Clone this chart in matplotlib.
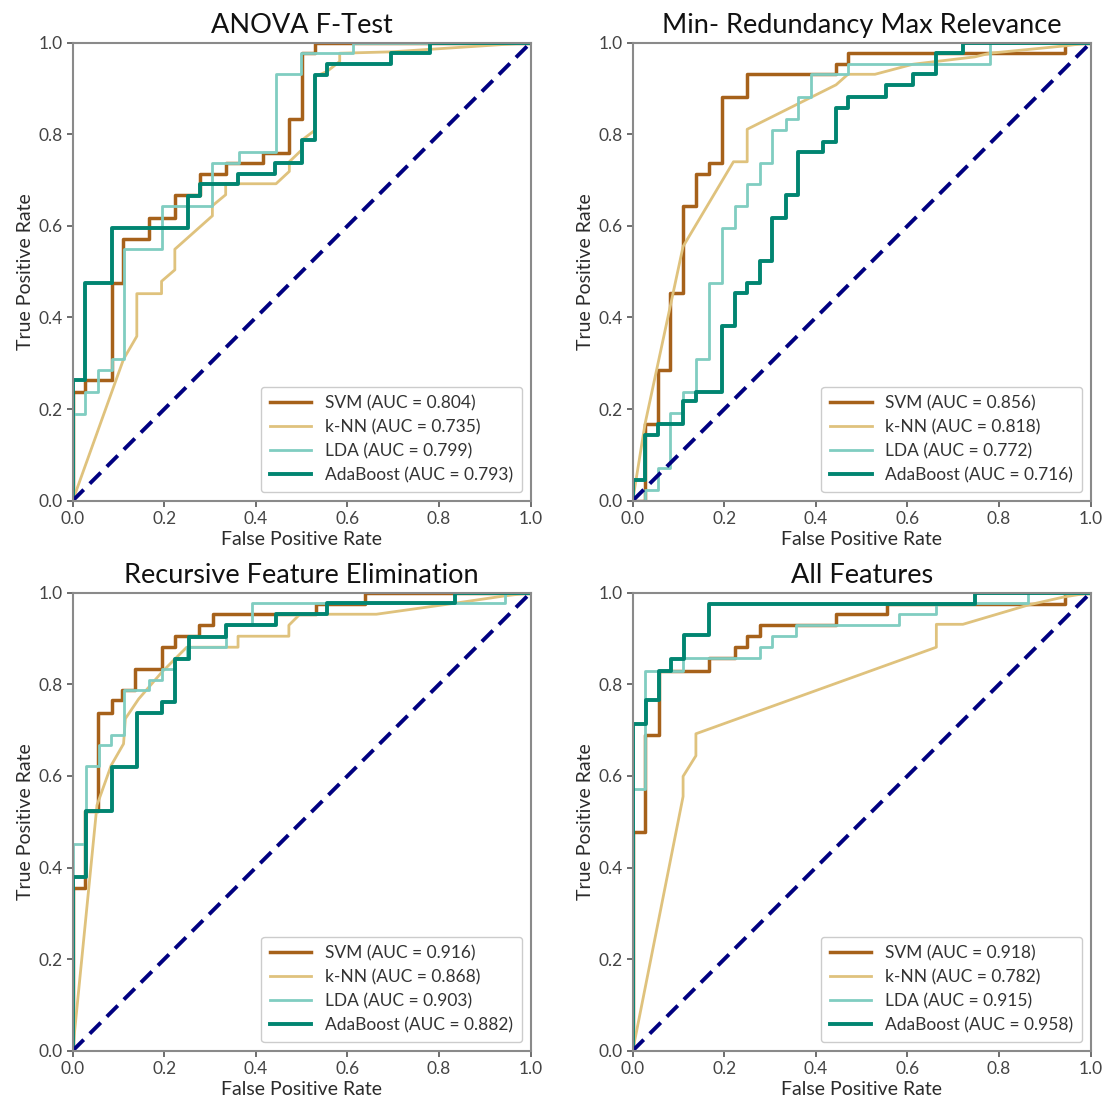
import numpy as np
import matplotlib
matplotlib.use("Agg")
import matplotlib.pyplot as plt

plt.rcParams['font.family'] = ['Lato', 'DejaVu Sans']

titles = ["ANOVA F-Test", "Min- Redundancy Max Relevance",
          "Recursive Feature Elimination", "All Features"]
models = ["SVM", "k-NN", "LDA", "AdaBoost"]
colors = ["#a6611a", "#dfc27d", "#80cdc1", "#018571"]
widths = [2.5, 2.0, 2.0, 2.8]

aucs = [
    [0.804, 0.735, 0.799, 0.793],
    [0.856, 0.818, 0.772, 0.716],
    [0.916, 0.868, 0.903, 0.882],
    [0.918, 0.782, 0.915, 0.958],
]

# step curves: points where the curve jumps (drawn with steps-post)
# ANOVA
svm1_x = [0, 0, 0.027, 0.085, 0.11, 0.167, 0.223, 0.278, 0.334, 0.416, 0.472, 0.5, 0.53, 1]
svm1_y = [0, 0.238, 0.263, 0.476, 0.571, 0.618, 0.668, 0.713, 0.738, 0.76, 0.833, 0.977, 1.0, 1.0]
lda1_x = [0, 0, 0.027, 0.056, 0.085, 0.112, 0.194, 0.305, 0.364, 0.444, 0.498, 0.612, 1]
lda1_y = [0, 0.19, 0.238, 0.286, 0.309, 0.549, 0.644, 0.738, 0.762, 0.931, 0.977, 1.0, 1.0]
ada1_x = [0, 0, 0.027, 0.085, 0.252, 0.278, 0.361, 0.441, 0.5, 0.529, 0.555, 0.696, 0.78, 1]
ada1_y = [0, 0.263, 0.476, 0.595, 0.666, 0.692, 0.713, 0.738, 0.787, 0.929, 0.953, 0.977, 1.0, 1.0]
knn1_x = [0, 0.111, 0.14, 0.14, 0.194, 0.194, 0.223, 0.223, 0.305, 0.305, 0.334, 0.334, 0.444,
          0.473, 0.473, 0.5, 0.5, 0.529, 0.529, 0.555, 0.583, 0.583, 0.696, 1]
knn1_y = [0, 0.309, 0.359, 0.452, 0.452, 0.479, 0.504, 0.549, 0.622, 0.644, 0.668, 0.692, 0.692,
          0.719, 0.74, 0.766, 0.787, 0.809, 0.926, 0.937, 0.959, 0.977, 0.98, 1]

# mRMR
svm2_x = [0, 0.027, 0.056, 0.081, 0.11, 0.138, 0.167, 0.194, 0.25, 0.444, 0.47, 0.943, 1]
svm2_y = [0, 0.168, 0.286, 0.453, 0.644, 0.713, 0.738, 0.881, 0.931, 0.953, 0.977, 1.0, 1.0]
lda2_x = [0, 0.027, 0.056, 0.081, 0.11, 0.138, 0.167, 0.194, 0.223, 0.25, 0.278, 0.305, 0.334,
          0.362, 0.389, 0.47, 0.78, 1]
lda2_y = [0, 0.024, 0.071, 0.191, 0.238, 0.309, 0.476, 0.595, 0.644, 0.692, 0.738, 0.809, 0.833,
          0.881, 0.931, 0.953, 1.0, 1.0]
ada2_x = [0, 0, 0.027, 0.056, 0.11, 0.138, 0.194, 0.223, 0.25, 0.278, 0.305, 0.334, 0.361, 0.416,
          0.444, 0.47, 0.554, 0.611, 0.663, 0.721, 1]
ada2_y = [0, 0.046, 0.144, 0.168, 0.217, 0.238, 0.382, 0.453, 0.476, 0.524, 0.618, 0.668, 0.762,
          0.784, 0.857, 0.881, 0.908, 0.931, 0.977, 1.0, 1.0]
knn2_x = [0, 0.027, 0.11, 0.22, 0.25, 0.25, 0.444, 0.47, 0.529, 0.612, 0.747, 0.78, 0.943, 1]
knn2_y = [0, 0.168, 0.555, 0.74, 0.74, 0.811, 0.908, 0.931, 0.931, 0.953, 0.969, 0.977, 0.993, 1]

# RFE
svm3_x = [0, 0, 0.027, 0.056, 0.086, 0.108, 0.137, 0.195, 0.223, 0.276, 0.307, 0.531, 0.638, 1]
svm3_y = [0, 0.356, 0.524, 0.738, 0.765, 0.787, 0.833, 0.881, 0.905, 0.929, 0.953, 0.975, 1.0, 1.0]
lda3_x = [0, 0, 0.029, 0.057, 0.084, 0.111, 0.167, 0.195, 0.223, 0.249, 0.334, 0.391, 0.943, 1]
lda3_y = [0, 0.451, 0.622, 0.668, 0.69, 0.787, 0.809, 0.833, 0.857, 0.881, 0.929, 0.977, 1.0, 1.0]
ada3_x = [0, 0, 0.029, 0.086, 0.14, 0.195, 0.223, 0.253, 0.334, 0.444, 0.556, 0.834, 1]
ada3_y = [0, 0.38, 0.524, 0.62, 0.737, 0.761, 0.856, 0.904, 0.929, 0.953, 0.977, 1.0, 1.0]
knn3_x = [0, 0.053, 0.084, 0.111, 0.115, 0.144, 0.195, 0.249, 0.361, 0.361, 0.472, 0.472, 0.496,
          0.663, 0.834, 0.943, 1]
knn3_y = [0, 0.536, 0.623, 0.67, 0.725, 0.768, 0.827, 0.881, 0.881, 0.905, 0.905, 0.929, 0.953,
          0.953, 0.977, 0.993, 1]

# All features
svm4_x = [0, 0, 0.027, 0.057, 0.167, 0.223, 0.25, 0.278, 0.444, 0.556, 0.943, 1]
svm4_y = [0, 0.478, 0.69, 0.83, 0.857, 0.881, 0.905, 0.929, 0.953, 0.975, 1.0, 1.0]
lda4_x = [0, 0, 0.027, 0.11, 0.278, 0.305, 0.356, 0.582, 0.663, 0.863, 1]
lda4_y = [0, 0.572, 0.83, 0.857, 0.881, 0.905, 0.929, 0.953, 0.977, 1.0, 1.0]
ada4_x = [0, 0, 0.029, 0.057, 0.084, 0.111, 0.167, 0.747, 1]
ada4_y = [0, 0.714, 0.765, 0.83, 0.856, 0.907, 0.976, 1.0, 1.0]
knn4_x = [0, 0.11, 0.11, 0.138, 0.138, 0.663, 0.663, 0.721, 0.863, 0.943, 1]
knn4_y = [0, 0.555, 0.599, 0.644, 0.692, 0.881, 0.931, 0.931, 0.973, 0.991, 1]

panels = [
    [(svm1_x, svm1_y), (knn1_x, knn1_y), (lda1_x, lda1_y), (ada1_x, ada1_y)],
    [(svm2_x, svm2_y), (knn2_x, knn2_y), (lda2_x, lda2_y), (ada2_x, ada2_y)],
    [(svm3_x, svm3_y), (knn3_x, knn3_y), (lda3_x, lda3_y), (ada3_x, ada3_y)],
    [(svm4_x, svm4_y), (knn4_x, knn4_y), (lda4_x, lda4_y), (ada4_x, ada4_y)],
]

fig = plt.figure(figsize=(11.1, 11.06), dpi=100)
positions = [
    [0.0655, 0.5473, 0.4126, 0.4141],
    [0.5700, 0.5473, 0.4126, 0.4141],
    [0.0655, 0.0500, 0.4126, 0.4141],
    [0.5700, 0.0500, 0.4126, 0.4141],
]

text_col = "#2b2b2b"
for i in range(4):
    ax = fig.add_axes(positions[i])
    for j in range(4):
        x, y = panels[i][j]
        ds = "default" if j == 1 else "steps-post"
        ax.plot(x, y, color=colors[j], lw=widths[j], drawstyle=ds,
                label=f"{models[j]} (AUC = {aucs[i][j]:.3f})")
    ax.plot([0, 1], [0, 1], color="navy", lw=2.8, linestyle=(0, (4, 2.2)))
    ax.set_xlim(0, 1)
    ax.set_ylim(0, 1)
    ax.set_xticks(np.arange(0, 1.01, 0.2))
    ax.set_yticks(np.arange(0, 1.01, 0.2))
    ax.tick_params(labelsize=12.5, colors="#555555", labelcolor="#444444", length=4, width=1.2)
    for s in ax.spines.values():
        s.set_color("#8a8a8a")
        s.set_linewidth(1.5)
    ax.set_xlabel("False Positive Rate", fontsize=14, color=text_col, labelpad=3)
    ax.set_ylabel("True Positive Rate", fontsize=14, color=text_col, labelpad=3)
    ax.set_title(titles[i], fontsize=19.5, color="#111111", pad=7)
    leg = ax.legend(loc="lower right", fontsize=12.5, handlelength=2.4, labelspacing=0.45,
                    borderpad=0.5, framealpha=1, edgecolor="#cccccc")
    for t in leg.get_texts():
        t.set_color("#333333")

fig.savefig("out.png", dpi=100)
